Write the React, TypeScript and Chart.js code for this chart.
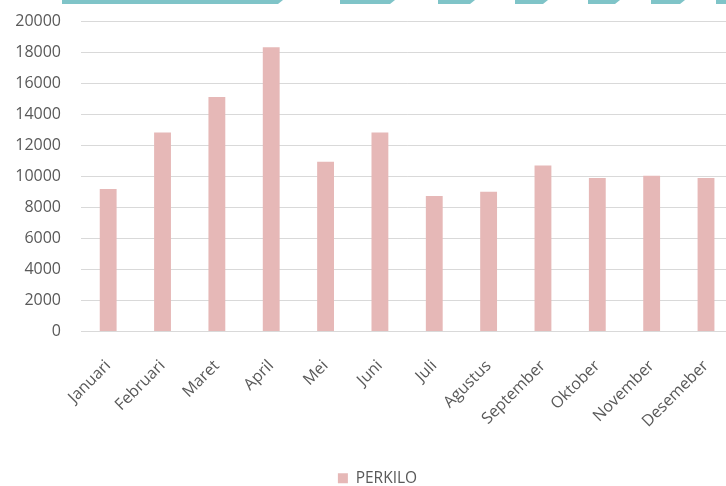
import React, { useEffect, useRef } from "react";
import { Chart, registerables } from "chart.js";

Chart.register(...registerables);

const months = [
  "Januari", "Februari", "Maret", "April", "Mei", "Juni",
  "Juli", "Agustus", "September", "Oktober", "November", "Desemeber",
];
const perkilo = [9200, 12850, 15130, 18350, 10950, 12850, 8750, 9020, 10720, 9900, 10050, 9900];
const seriesName = "PERKILO";
const yMax = 20000;
const yStep = 2000;

const stripes: [number, number][] = [
  [62, 283], [340, 395], [438, 475], [515, 548], [588, 620], [651, 685], [716, 740],
];

const legendShift = {
  id: "legendShift",
  afterLayout(c: any) {
    if (c.legend) {
      c.legend.left += 10;
      c.legend.right += 10;
    }
  },
};

export default function App() {
  const ref = useRef<HTMLCanvasElement>(null);
  useEffect(() => {
    if (!ref.current) return;
    const font = { family: "'Open Sans', sans-serif", size: 16 };
    const chart = new Chart(ref.current, {
      type: "bar",
      data: {
        labels: months,
        datasets: [
          {
            label: seriesName,
            data: perkilo,
            backgroundColor: "#e6b8b7",
            borderWidth: 0,
            categoryPercentage: 1,
            barPercentage: 0.31,
          },
        ],
      },
      plugins: [legendShift],
      options: {
        animation: false,
        responsive: false,
        maintainAspectRatio: false,
        layout: { padding: { top: 5, right: 10, left: 0, bottom: 0 } },
        plugins: {
          tooltip: { enabled: false },
          legend: {
            position: "bottom",
            labels: {
              boxWidth: 10,
              boxHeight: 10,
              color: "#595959",
              font: { family: "'Open Sans', sans-serif", size: 15.5 },
              padding: 10,
            },
          },
        },
        scales: {
          x: {
            afterFit: (s: any) => { s.height = 129; },
            grid: { display: false, drawTicks: false },
            border: { display: true, color: "#d9d9d9", width: 1 },
            ticks: {
              color: "#595959",
              font,
              minRotation: 45,
              maxRotation: 45,
              padding: 25,
              autoSkip: false,
            },
          },
          y: {
            min: 0,
            max: yMax,
            afterFit: (s: any) => { s.width = 81; },
            grid: { color: "#d9d9d9", lineWidth: 1, drawTicks: false },
            border: { display: false },
            ticks: {
              stepSize: yStep,
              color: "#595959",
              font,
              padding: 20,
              callback: (v: any) => String(v),
            },
          },
        },
      },
    });
    return () => chart.destroy();
  }, []);

  return (
    <div style={{ position: "fixed", left: 0, top: 0, width: 726, height: 486, overflow: "hidden", background: "#fff" }}>
      <canvas ref={ref} width={745} height={504} style={{ position: "absolute", left: 0, top: -8, width: 745, height: 504 }} />
      {stripes.map(([a, b], i) => (
        <div
          key={i}
          style={{
            position: "absolute",
            top: 0,
            left: a,
            width: b - a,
            height: 4,
            background: "#7fc4c8",
            clipPath: "polygon(0px 0px, " + (b - a) + "px 0px, " + (b - a - 5) + "px 4px, 0px 4px)",
          }}
        />
      ))}
    </div>
  );
}
